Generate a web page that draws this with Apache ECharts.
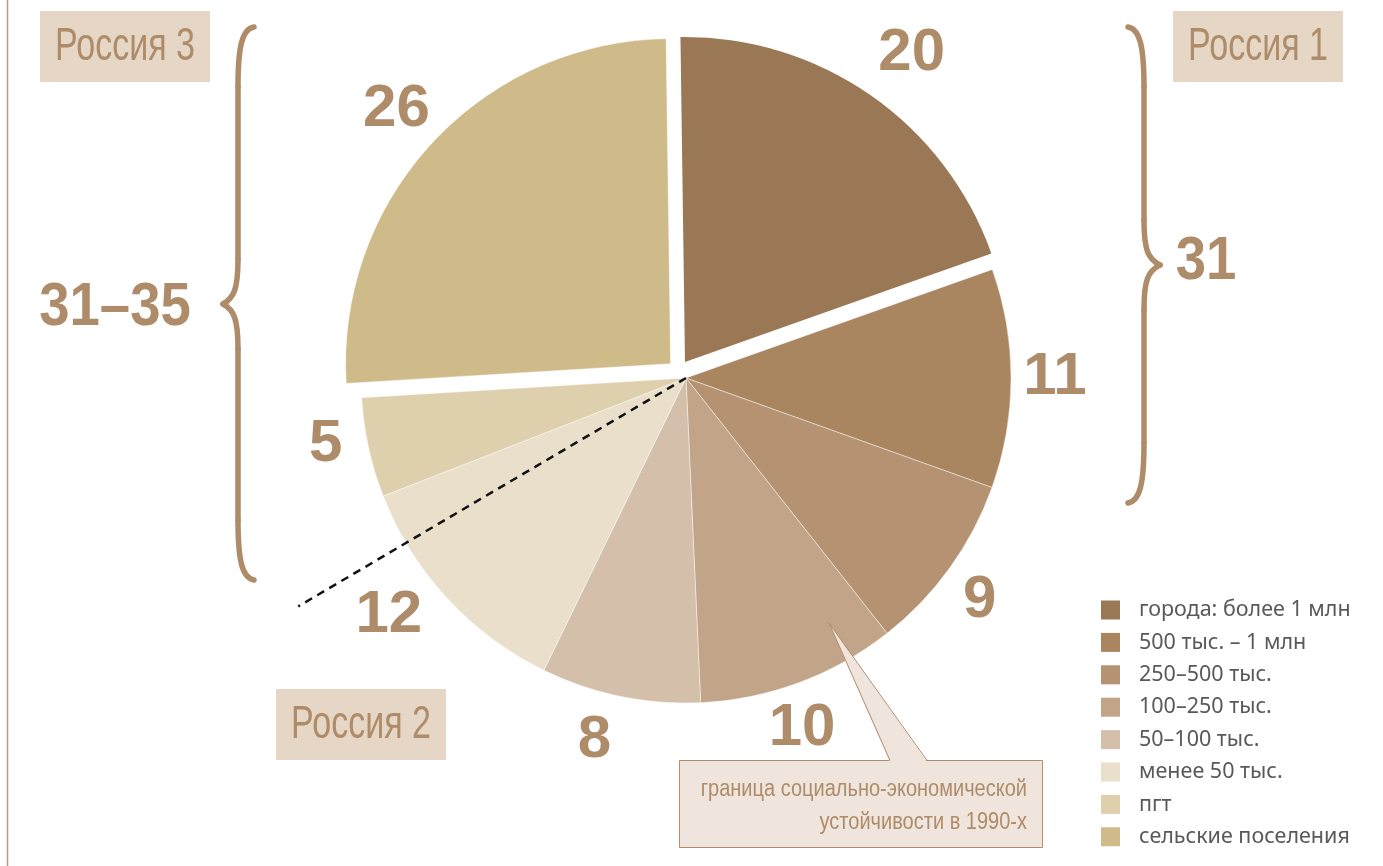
<!DOCTYPE html>
<html><head><meta charset="utf-8">
<script src="https://cdn.jsdelivr.net/npm/echarts@6/dist/echarts.min.js"></script>
<style>html,body{margin:0;padding:0;background:#fff}#c{width:1383px;height:866px}</style>
</head><body><div id="c"></div>
<script>
// ---- data ----
const categories = ['города: более 1 млн', '500 тыс. – 1 млн', '250–500 тыс.', '100–250 тыс.', '50–100 тыс.', 'менее 50 тыс.', 'пгт', 'сельские поселения'];
const shares = [20, 11, 9, 10, 8, 12, 5, 26];
const groupLabels = ['Россия 1', 'Россия 2', 'Россия 3'];
const groupTotals = ['31', '31–35'];
const noteLines = ['граница социально-экономической', 'устойчивости в 1990-х'];

// ---- styles / layout ----
const sliceColors = ['#9b7855', '#a9865f', '#b59372', '#c2a589', '#d4bfaa', '#e9dfca', '#dfd0ad', '#cfbb8a'];
const labelNudge = [[2, 6], [-4, -1], [-9, 5], [-14, 1], [-16, -3], [-23, -15], [4, -14], [-4, -4]];
const CX = 686, CY = 378, R = 325, START = 90.8;
const BROWN = '#ae8c69';
const SANS = '"Liberation Sans", Arial, sans-serif';

const chart = echarts.init(document.getElementById('c'), null, {renderer: 'canvas'});

const baseSeries = {
  type: 'pie', startAngle: START, clockwise: true, silent: true,
  label: {show: false}, labelLine: {show: false},
  emphasis: {disabled: true}, selectedMode: 'multiple', avoidLabelOverlap: false,
  animation: false
};

const mainData = shares.map((v, i) => ({
  name: categories[i], value: v, selected: i === 7,
  itemStyle: {color: sliceColors[i], opacity: i === 0 ? 0 : 1, borderColor: 'rgba(255,255,255,0.55)', borderWidth: 0.8}
}));
const topData = shares.map((v, i) => ({
  name: categories[i], value: v,
  itemStyle: {color: sliceColors[i], opacity: i === 0 ? 1 : 0, borderWidth: 0}
}));
const labelData = shares.map((v, i) => ({
  name: categories[i], value: v, selected: i === 0 || i === 7,
  label: {offset: labelNudge[i]}
}));

// dashed boundary line, defined by angle from pie centre
const DASH_ANGLE = 210.5 * Math.PI / 180, DASH_LEN = 450;
const dashEnd = [CX + DASH_LEN * Math.cos(DASH_ANGLE), CY - DASH_LEN * Math.sin(DASH_ANGLE)];

const braceStyle = {stroke: '#ae8c69', fill: null, lineWidth: 5.5, lineCap: 'round'};
function bez(x1, y1, c1x, c1y, c2x, c2y, x2, y2) {
  return {type: 'bezierCurve', shape: {x1: x1, y1: y1, cpx1: c1x, cpy1: c1y, cpx2: c2x, cpy2: c2y, x2: x2, y2: y2}, style: braceStyle, z: 50};
}
function seg(x1, y1, x2, y2) {
  return {type: 'line', shape: {x1: x1, y1: y1, x2: x2, y2: y2}, style: braceStyle, z: 50};
}
// dir = -1: tip points left; dir = 1: tip points right
function brace(xs, dir, yTop, yTip, yBot, xTip) {
  const xe = xs - dir * 16;
  return [
    bez(xe, yTop, xs - dir * 4, yTop + 2, xs, yTop + 20, xs, yTop + 60),
    seg(xs, yTop + 60, xs, yTip - 45),
    bez(xs, yTip - 45, xs, yTip - 15, xs + dir * 4, yTip - 6, xTip, yTip),
    bez(xTip, yTip, xs + dir * 4, yTip + 6, xs, yTip + 15, xs, yTip + 45),
    seg(xs, yTip + 45, xs, yBot - 60),
    bez(xs, yBot - 60, xs, yBot - 20, xs - dir * 4, yBot - 2, xe, yBot)
  ];
}

function groupBox(x, y, w, h, text) {
  return [
    {type: 'rect', shape: {x: x, y: y, width: w, height: h}, style: {fill: '#e6d6c6'}, z: 50},
    {type: 'text', x: x + w / 2, y: y + h / 2 + 1, scaleX: 0.74, style: {text: text, align: 'center', verticalAlign: 'middle', font: '46px ' + SANS, fill: BROWN}, z: 51}
  ];
}

const graphics = [
  {type: 'line', shape: {x1: 7.5, y1: 0, x2: 7.5, y2: 866}, style: {stroke: '#b49d88', lineWidth: 1.5}, z: 10},
  ...groupBox(1173, 11, 170, 71, groupLabels[0]),
  ...groupBox(276, 689, 170, 71, groupLabels[1]),
  ...groupBox(40, 11, 170, 71, groupLabels[2]),
  ...brace(238, -1, 27, 304, 580, 223),
  ...brace(1144, 1, 27, 265, 503, 1160),
  {type: 'text', x: 1206, y: 262, scaleX: 0.88, style: {text: groupTotals[0], align: 'center', verticalAlign: 'middle', font: 'bold 62px ' + SANS, fill: BROWN}, z: 50},
  {type: 'text', x: 115, y: 308, scaleX: 0.88, style: {text: groupTotals[1], align: 'center', verticalAlign: 'middle', font: 'bold 62px ' + SANS, fill: BROWN}, z: 50},
  {type: 'line', shape: {x1: CX, y1: CY, x2: dashEnd[0], y2: dashEnd[1]}, style: {stroke: '#111', lineWidth: 2.5, lineDash: [8, 6]}, z: 100},
  // callout
  {type: 'rect', shape: {x: 679.5, y: 760.5, width: 363, height: 87}, style: {fill: '#efe5dc', stroke: '#b08d6c', lineWidth: 1}, z: 100},
  {type: 'polygon', shape: {points: [[890, 762], [829, 623], [927, 762]]}, style: {fill: '#efe5dc'}, z: 101},
  {type: 'polyline', shape: {points: [[890, 760.5], [829, 623], [927, 760.5]]}, style: {stroke: '#b08d6c', lineWidth: 1, fill: null}, z: 102},
  {type: 'text', x: 1027, y: 790, scaleX: 0.87, style: {text: noteLines[0], align: 'right', verticalAlign: 'middle', font: '23px ' + SANS, fill: BROWN}, z: 103},
  {type: 'text', x: 1027, y: 823, scaleX: 0.87, style: {text: noteLines[1], align: 'right', verticalAlign: 'middle', font: '23px ' + SANS, fill: BROWN}, z: 103}
];

chart.setOption({
  animation: false,
  backgroundColor: '#ffffff',
  legend: {
    orient: 'vertical', left: 1096, top: 594, height: 275,
    itemWidth: 19, itemHeight: 19, itemGap: 10.4, icon: 'rect', selectedMode: false,
    textStyle: {fontFamily: '"Noto Sans", "Open Sans", sans-serif', fontSize: 21.5, lineHeight: 19, color: '#58595b', padding: [0, 0, 0, 14]},
    data: categories.map((n, i) => ({name: n, itemStyle: {color: sliceColors[i], opacity: 1, borderWidth: 0}}))
  },
  series: [
    Object.assign({}, baseSeries, {name: 'main', center: [CX, CY], radius: R, selectedOffset: 21, data: mainData, z: 2}),
    Object.assign({}, baseSeries, {name: 'top', center: [CX - 1, CY - 16], radius: R, data: topData, z: 3}),
    Object.assign({}, baseSeries, {
      name: 'labels', center: [CX, CY], radius: [335, 405], selectedOffset: 22, data: labelData, z: 4,
      itemStyle: {color: 'rgba(0,0,0,0)', borderWidth: 0},
      select: {itemStyle: {color: 'rgba(0,0,0,0)', borderWidth: 0}},
      label: {show: true, position: 'inside', rotate: 0, formatter: '{c}', color: BROWN, fontSize: 60, fontWeight: 'bold', fontFamily: SANS}
    })
  ],
  graphic: graphics
});
</script>
</body></html>
